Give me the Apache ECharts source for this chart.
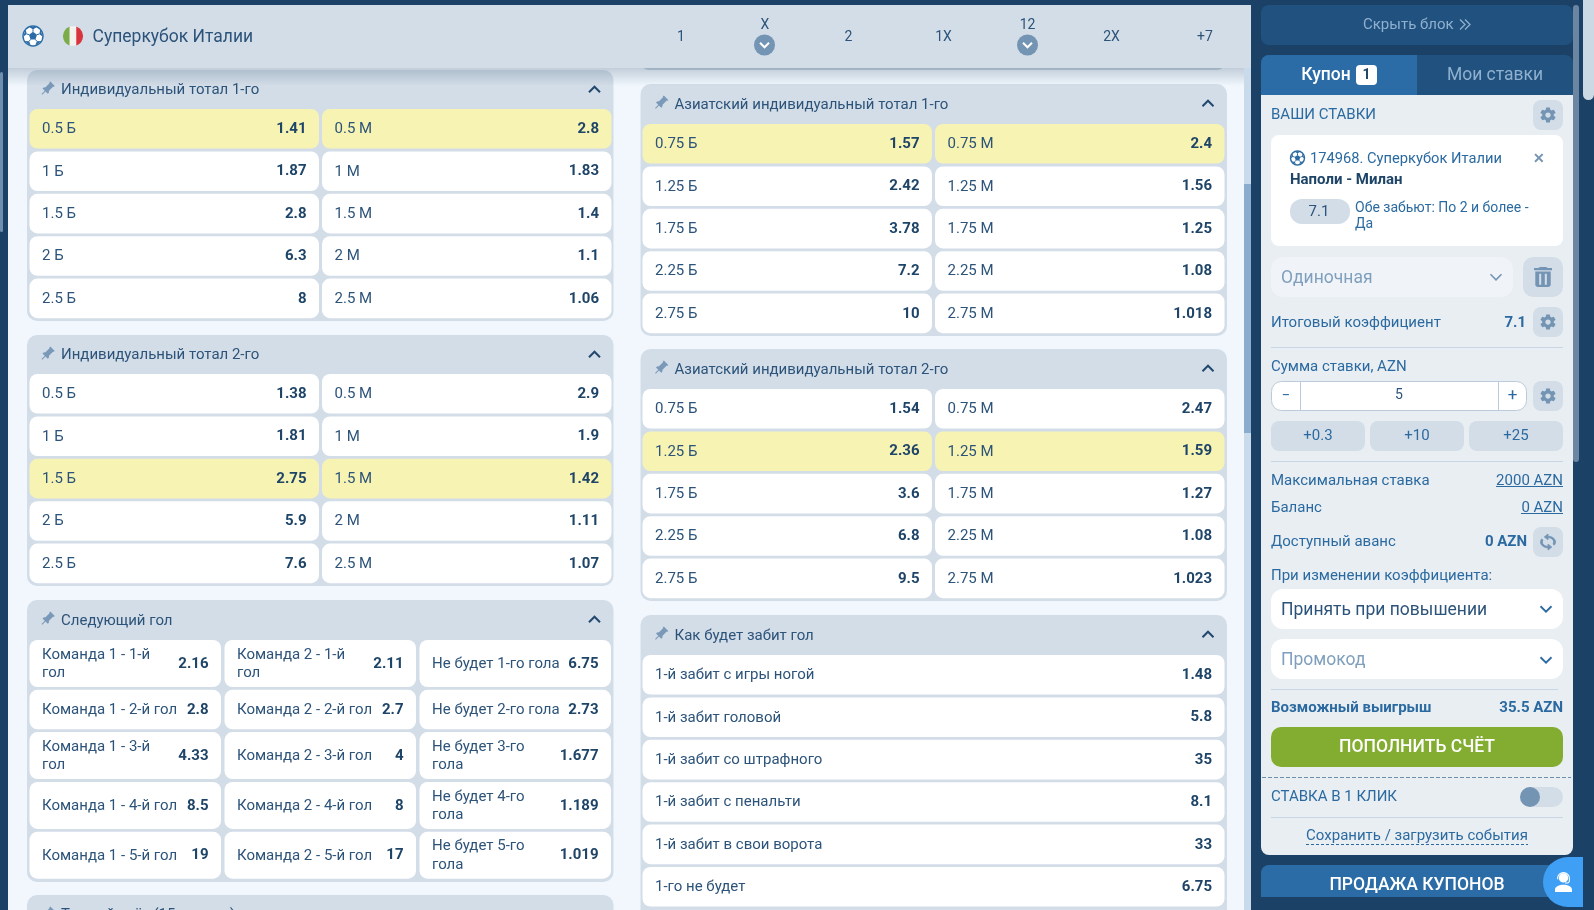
<!DOCTYPE html>
<html>
<head>
<meta charset="utf-8">
<style>html,body{margin:0;padding:0;background:#1c4167}#main{width:1594px;height:910px}</style>
<script src="https://cdn.jsdelivr.net/npm/echarts@6/dist/echarts.min.js"></script>
</head>
<body>
<div id="main"></div>
<script>
// market tables
const totalLines = ['0.5', '1', '1.5', '2', '2.5']
const asianLines = ['0.75', '1.25', '1.75', '2.25', '2.75']

const ind1Over = [1.41, 1.87, 2.8, 6.3, 8]
const ind1Under = [2.8, 1.83, 1.4, 1.1, 1.06]
const ind2Over = [1.38, 1.81, 2.75, 5.9, 7.6]
const ind2Under = [2.9, 1.9, 1.42, 1.11, 1.07]
const asian1Over = [1.57, 2.42, 3.78, 7.2, 10]
const asian1Under = [2.4, 1.56, 1.25, 1.08, 1.018]
const asian2Over = [1.54, 2.36, 3.6, 6.8, 9.5]
const asian2Under = [2.47, 1.59, 1.27, 1.08, 1.023]

const nextGoalTeam1 = ['Команда 1 - 1-й\nгол', 'Команда 1 - 2-й гол', 'Команда 1 - 3-й\nгол', 'Команда 1 - 4-й гол', 'Команда 1 - 5-й гол']
const nextGoalTeam2 = ['Команда 2 - 1-й\nгол', 'Команда 2 - 2-й гол', 'Команда 2 - 3-й гол', 'Команда 2 - 4-й гол', 'Команда 2 - 5-й гол']
const nextGoalNone = ['Не будет 1-го гола', 'Не будет 2-го гола', 'Не будет 3-го\nгола', 'Не будет 4-го\nгола', 'Не будет 5-го\nгола']
const nextGoalOdds1 = [2.16, 2.8, 4.33, 8.5, 19]
const nextGoalOdds2 = [2.11, 2.7, 4, 8, 17]
const nextGoalOdds3 = [6.75, 2.73, 1.677, 1.189, 1.019]

const howScored = ['1-й забит с игры ногой', '1-й забит головой', '1-й забит со штрафного', '1-й забит с пенальти', '1-й забит в свои ворота', '1-го не будет']
const howScoredOdds = [1.48, 5.8, 35, 8.1, 33, 6.75]

const headerMarkets = ['1', 'X', '2', '1X', '12', '2X', '+7']

const FONT = 'Roboto'
const NAVY = '#1c4167'
const PANEL = '#d3dde8'
const TXT = '#2c5379'
const ODD = '#1e4468'
const BLUE = '#2b6aa0'
const MUTED = '#7494b4'
const YELLOW = '#f7f3b3'

const GEAR = 'M19.43 12.98c.04-.32.07-.64.07-.98s-.03-.66-.07-.98l2.11-1.65c.19-.15.24-.42.12-.64l-2-3.46c-.12-.22-.39-.3-.61-.22l-2.49 1c-.52-.4-1.08-.73-1.69-.98l-.38-2.65C14.46 2.18 14.25 2 14 2h-4c-.25 0-.46.18-.49.42l-.38 2.65c-.61.25-1.17.59-1.69.98l-2.49-1c-.23-.09-.49 0-.61.22l-2 3.46c-.13.22-.07.49.12.64l2.11 1.65c-.04.32-.07.65-.07.98s.03.66.07.98l-2.11 1.65c-.19.15-.24.42-.12.64l2 3.46c.12.22.39.3.61.22l2.49-1c.52.4 1.08.73 1.69.98l.38 2.65c.03.24.24.42.49.42h4c.25 0 .46-.18.49-.42l.38-2.65c.61-.25 1.17-.59 1.69-.98l2.49 1c.23.09.49 0 .61-.22l2-3.46c.12-.22.07-.49-.12-.64l-2.11-1.65zM12 15.5c-1.93 0-3.5-1.57-3.5-3.5s1.57-3.5 3.5-3.5 3.5 1.57 3.5 3.5-1.57 3.5-3.5 3.5z'
const PIN = 'M16 12V4h1V2H7v2h1v8l-2 2v2h5.2v6h1.6v-6H18v-2l-2-2z'
const TRASH = 'M6 19c0 1.1.9 2 2 2h8c1.1 0 2-.9 2-2V7H6v12zM9 9h1.6v10H9zM13.4 9H15v10h-1.6zM19 4h-3.5l-1-1h-5l-1 1H5v2h14V4z'
const SYNC = 'M12 4V1L8 5l4 4V6c3.31 0 6 2.69 6 6 0 1.01-.25 1.97-.7 2.8l1.46 1.46C19.54 15.03 20 13.57 20 12c0-4.42-3.58-8-8-8zm0 14c-3.31 0-6-2.69-6-6 0-1.01.25-1.97.7-2.8L5.24 7.74C4.46 8.97 4 10.43 4 12c0 4.42 3.58 8 8 8v3l4-4-4-4v3z'
const AGENT = 'M12 12.5a4.2 4.2 0 1 0 0-8.4 4.2 4.2 0 0 0 0 8.4zM6.3 9.5V8.7a5.7 5.7 0 0 1 11.4 0v2.1c0 1.5-1.2 2.6-2.7 2.6h-1.6v-.9H15c1 0 1.8-.7 1.8-1.7V8.7a4.8 4.8 0 0 0-9.6 0v.8zM12 14.5c-3.6 0-7.6 1.7-7.6 4.2V21h15.2v-2.3c0-2.5-4-4.2-7.6-4.2z'

function rect(x, y, w, h, fill, r) {
  return { type: 'rect', shape: { x: x, y: y, width: w, height: h, r: r || 0 }, style: { fill: fill } }
}
// canvas middle baseline sits a pixel high for Roboto, hence the +1
function text(x, y, s, size, fill, align, weight) {
  return {
    type: 'text',
    style: {
      x: x, y: y + 1, text: s, fill: fill || TXT,
      font: (weight || 400) + ' ' + size + 'px ' + FONT,
      lineHeight: 18.5,
      textAlign: align || 'left', textVerticalAlign: 'middle',
    },
  }
}
function hline(x1, x2, y, color, dash) {
  return {
    type: 'line',
    shape: { x1: x1, y1: y, x2: x2, y2: y },
    style: { stroke: color, lineWidth: 1, lineDash: dash || null },
  }
}
function icon(path, x, y, w, h, fill, rotation, stroke) {
  return {
    type: 'path',
    shape: { pathData: path, x: x, y: y, width: w, height: h, layout: 'cover' },
    rotation: rotation || 0,
    originX: x + w / 2,
    originY: y + h / 2,
    style: { fill: fill, stroke: stroke ? fill : null, lineWidth: stroke || 0 },
  }
}
function chevron(cx, cy, size, color, up, width) {
  const d = up ? -size / 2 : size / 2
  return {
    type: 'polyline',
    shape: { points: [[cx - size, cy - d], [cx, cy + d], [cx + size, cy - d]] },
    style: { stroke: color, fill: 'none', lineWidth: width || 1.8 },
  }
}
function ball(cx, cy, r, color) {
  const out = [{ type: 'circle', shape: { cx: cx, cy: cy, r: r }, style: { fill: '#fff', stroke: color, lineWidth: 1.4 } }]
  const pts = []
  for (let i = 0; i < 5; i++) {
    const a = -Math.PI / 2 + i * 2 * Math.PI / 5
    pts.push([cx + r * 0.42 * Math.cos(a), cy + r * 0.42 * Math.sin(a)])
    const a1 = a - 0.42, a2 = a + 0.42, mid = [cx + r * 0.66 * Math.cos(a), cy + r * 0.66 * Math.sin(a)]
    out.push({
      type: 'polygon',
      shape: { points: [[cx + r * Math.cos(a1), cy + r * Math.sin(a1)], [cx + r * Math.cos(a2), cy + r * Math.sin(a2)], mid] },
      style: { fill: color },
    })
    out.push({
      type: 'line',
      shape: { x1: pts[i][0], y1: pts[i][1], x2: mid[0], y2: mid[1] },
      style: { stroke: color, lineWidth: 1 },
    })
  }
  out.push({ type: 'polygon', shape: { points: pts }, style: { fill: color } })
  return out
}
function gearBtn(x, y) {
  return [rect(x, y, 30, 30, PANEL, 8), icon(GEAR, x + 7.5, y + 7.5, 15, 15, MUTED)]
}

// one market block: grey panel with a title and its table of odds
function panelSeries(title, x, top, w, height, titleY) {
  const ty = titleY === undefined ? 19.5 : titleY
  return {
    type: 'custom', coordinateSystem: 'none', silent: true, z: 1,
    data: [0],
    renderItem: () => ({
      type: 'group',
      children: [
        rect(x, top, w, height, PANEL, 10),
        icon(PIN, x + 16.5, top + 11.5, 7.5, 15, '#7a99b8', -Math.PI / 4),
        text(x + 34, top + ty, title, 15, TXT),
        chevron(x + w - 19, top + 19.5, 5.5, '#23486d', true, 2),
      ],
    }),
  }
}
// heights: one row height per row, rows are GAP apart
const GAP = 2.8
function oddsSeries(labels, odds, x, top, w, heights, yellow) {
  return {
    type: 'custom', coordinateSystem: 'none', silent: true, z: 2,
    data: odds,
    renderItem: (params) => {
      const i = params.dataIndex
      let y = top
      for (let k = 0; k < i; k++) y += heights[k] + GAP
      const h = heights[i]
      return {
        type: 'group',
        children: [
          rect(x, y, w, h, yellow && yellow.indexOf(i) >= 0 ? YELLOW : '#fff', 8),
          text(x + 12.5, y + h / 2 - 0.3, labels[i], 15, TXT),
          text(x + w - 12.5, y + h / 2 - 0.5, String(odds[i]), 15, ODD, 'right', 700),
        ],
      }
    },
  }
}

const over = (arr) => arr.map((v) => v + ' Б')
const under = (arr) => arr.map((v) => v + ' М')

const COL_W = 289.5
const ROWS_5 = [39.6, 39.6, 39.6, 39.6, 39.6]
const ROWS_6 = [39.6, 39.6, 39.6, 39.6, 39.6, 39.6]
const ROWS_GOAL = [47, 39.5, 47, 47, 47]

const backdrop = [
  rect(0, 0, 1594, 910, NAVY),
  rect(8, 5, 1243, 905, '#f1f7fd'),
  rect(1244, 5, 7, 905, '#c9dbeb'),
  rect(1244, 184, 7, 249, '#8aaccd'),
  rect(0, 72, 3, 160, '#6f8fae', 2),
  rect(641, 40, 584, 30, '#c3cfdb', 8),
]

const headerBar = [
  {
    type: 'rect',
    shape: { x: 8, y: 68, width: 1236, height: 18 },
    style: {
      fill: new echarts.graphic.LinearGradient(0, 0, 0, 1, [
        { offset: 0, color: 'rgba(70,100,130,0.28)' },
        { offset: 1, color: 'rgba(70,100,130,0)' },
      ]),
    },
  },
  rect(8, 5, 1243, 63, PANEL),
  ...ball(33, 36, 10, '#2b6ca7'),
  { type: 'path', shape: { pathData: 'M69.7 26.6A10 10 0 0 0 69.7 45.4Z', x: 63, y: 26.6, width: 6.7, height: 18.8, layout: 'cover' }, style: { fill: '#7cab4a' } },
  rect(69.7, 26.3, 6.6, 19.4, '#f4f1ef'),
  { type: 'path', shape: { pathData: 'M76.3 26.6A10 10 0 0 1 76.3 45.4Z', x: 76.3, y: 26.6, width: 6.7, height: 18.8, layout: 'cover' }, style: { fill: '#d9343c' } },
  text(92.5, 36.5, 'Суперкубок Италии', 17.5, TXT),
  text(681, 36, headerMarkets[0], 14, TXT, 'center'),
  text(765, 24.5, headerMarkets[1], 14, TXT, 'center'),
  { type: 'circle', shape: { cx: 764.5, cy: 45, r: 10.5 }, style: { fill: MUTED } },
  chevron(764.5, 45, 4.5, '#fff', false, 2),
  text(848.5, 36, headerMarkets[2], 14, TXT, 'center'),
  text(943.5, 36, headerMarkets[3], 14, TXT, 'center'),
  text(1027.5, 24.5, headerMarkets[4], 14, TXT, 'center'),
  { type: 'circle', shape: { cx: 1027.5, cy: 45, r: 10.5 }, style: { fill: MUTED } },
  chevron(1027.5, 45, 4.5, '#fff', false, 2),
  text(1111.5, 36, headerMarkets[5], 14, TXT, 'center'),
  text(1205, 36, headerMarkets[6], 14, TXT, 'center'),
]

const sidebar = [
  rect(1583, 0, 11, 100, '#cbd9e4', [0, 0, 6, 6]),
  rect(1573, 5, 6, 457, '#6a86a3', 3),
  rect(1261, 5, 312, 40, '#21527f', 8),
  text(1363, 24, 'Скрыть блок', 15, '#8fb0cf'),
  { type: 'polyline', shape: { points: [[1460, 19.5], [1465, 24.5], [1460, 29.5]] }, style: { stroke: '#8fb0cf', fill: 'none', lineWidth: 1.3 } },
  { type: 'polyline', shape: { points: [[1465, 19.5], [1470, 24.5], [1465, 29.5]] }, style: { stroke: '#8fb0cf', fill: 'none', lineWidth: 1.3 } },
  rect(1261, 55, 312, 40, '#21527f', [8, 8, 0, 0]),
  rect(1261, 55, 156, 40, '#2b6ca7', [8, 0, 0, 0]),
  text(1326, 75, 'Купон', 17.5, '#fff', 'center', 500),
  rect(1356, 65, 21, 20, '#fff', 4),
  text(1366.5, 74, '1', 14, ODD, 'center', 700),
  text(1495, 75, 'Мои ставки', 17.5, '#8fb0cf', 'center'),
  rect(1261, 95, 312, 760, '#e9eef3', [0, 0, 8, 8]),

  text(1271, 114, 'ВАШИ СТАВКИ', 15, BLUE),
  ...gearBtn(1533, 100),
  rect(1271, 135, 292, 111, '#fff', 8),
  ...ball(1297.5, 158, 7, BLUE),
  text(1310, 158, '174968. Суперкубок Италии', 14.7, BLUE),
  text(1539, 158, '✕', 14, '#7494b4', 'center', 700),
  text(1290, 179, 'Наполи - Милан', 15, ODD, 'left', 700),
  rect(1290, 199, 60, 25, PANEL, 12),
  text(1319, 211, '7.1', 15, TXT, 'center'),
  text(1355, 207, 'Обе забьют: По 2 и более -', 14, BLUE),
  text(1355, 223, 'Да', 14, BLUE),

  rect(1271, 257, 242, 40, '#f0f4f8', 12),
  text(1281, 277.5, 'Одиночная', 17.5, '#7f9fbd'),
  chevron(1496, 277, 5.5, '#7494b4', false, 1.6),
  rect(1523, 257, 40, 40, PANEL, 10),
  icon(TRASH, 1534, 267, 18, 20, MUTED),

  text(1271, 322, 'Итоговый коэффициент', 15, BLUE),
  text(1526, 322, '7.1', 15, BLUE, 'right', 700),
  ...gearBtn(1533, 307),
  hline(1271, 1563, 347.5, '#c8d6e3'),

  text(1271, 366, 'Сумма ставки, AZN', 15, BLUE),
  { type: 'rect', shape: { x: 1271.5, y: 381.5, width: 255, height: 29, r: 10 }, style: { fill: '#fff', stroke: '#bccbd9', lineWidth: 1 } },
  { type: 'line', shape: { x1: 1300.5, y1: 382, x2: 1300.5, y2: 410 }, style: { stroke: '#bccbd9' } },
  { type: 'line', shape: { x1: 1498.5, y1: 382, x2: 1498.5, y2: 410 }, style: { stroke: '#bccbd9' } },
  text(1286, 395, '−', 15, BLUE, 'center'),
  text(1399, 394, '5', 14, TXT, 'center'),
  text(1512.5, 395, '+', 17, BLUE, 'center'),
  ...gearBtn(1533, 381),

  rect(1271, 421, 94, 30, PANEL, 8),
  text(1318, 435, '+0.3', 15, BLUE, 'center'),
  rect(1370, 421, 94, 30, PANEL, 8),
  text(1417, 435, '+10', 15, BLUE, 'center'),
  rect(1469, 421, 94, 30, PANEL, 8),
  text(1516, 435, '+25', 15, BLUE, 'center'),
  hline(1271, 1563, 461.5, '#c8d6e3'),

  text(1271, 480, 'Максимальная ставка', 15, BLUE),
  text(1563, 480, '2000 AZN', 15, BLUE, 'right'),
  hline(1496, 1563, 486.5, BLUE),
  text(1271, 507, 'Баланс', 15, BLUE),
  text(1563, 507, '0 AZN', 15, BLUE, 'right'),
  hline(1521, 1563, 513.5, BLUE),
  text(1271, 541, 'Доступный аванс', 15, BLUE),
  text(1527, 541, '0 AZN', 15, BLUE, 'right', 700),
  rect(1533, 527, 30, 30, PANEL, 8),
  icon(SYNC, 1540.5, 534, 15, 16, MUTED, 0, 0.8),
  text(1271, 575, 'При изменении коэффициента:', 15, BLUE),

  rect(1271, 589, 292, 40, '#fff', 12),
  text(1281, 609.5, 'Принять при повышении', 17.5, TXT),
  chevron(1546, 609, 5.5, '#2b6aa0', false, 1.8),
  rect(1271, 639, 292, 40, '#fff', 12),
  text(1281, 660, 'Промокод', 17.5, '#7f9fbd'),
  chevron(1546, 660, 5.5, '#2b6aa0', false, 1.8),
  hline(1271, 1558, 689.5, '#c8d6e3'),
  text(1271, 707, 'Возможный выигрыш', 15, BLUE, 'left', 700),
  text(1563, 707, '35.5 AZN', 15, BLUE, 'right', 700),

  rect(1271, 727, 292, 40, '#83ad30', 10),
  text(1417, 746.5, 'ПОПОЛНИТЬ СЧЁТ', 17.5, '#fff', 'center', 500),
  hline(1262, 1571, 777.5, '#6f8fae', [4, 2]),
  text(1271, 796, 'СТАВКА В 1 КЛИК', 15, BLUE),
  rect(1520, 787, 43, 20, PANEL, 10),
  { type: 'circle', shape: { cx: 1530, cy: 797, r: 10 }, style: { fill: MUTED } },
  hline(1271, 1563, 817.5, '#c8d6e3'),
  text(1417, 835, 'Сохранить / загрузить события', 15, BLUE, 'center'),
  hline(1306, 1528, 844.5, BLUE, [3, 2]),

  rect(1261, 865, 312, 32, '#2b6ca7', [8, 8, 0, 0]),
  text(1417, 884.5, 'ПРОДАЖА КУПОНОВ', 17.5, '#fff', 'center', 500),
  rect(1543, 857, 40, 50, '#3f9ff5', [25, 0, 0, 25]),
  icon(AGENT, 1555, 872, 17, 20, '#fff'),
]

function chrome(children, z) {
  return {
    type: 'custom', coordinateSystem: 'none', silent: true, z: z,
    data: [0],
    renderItem: () => ({ type: 'group', children: children }),
  }
}

const option = {
  animation: false,
  backgroundColor: NAVY,
  series: [
    chrome(backdrop, 0),

    panelSeries('Индивидуальный тотал 1-го', 27, 70, 586.5, 251, 19),
    oddsSeries(over(totalLines), ind1Over, 29.5, 109, COL_W, ROWS_5, [0]),
    oddsSeries(under(totalLines), ind1Under, 322, 109, COL_W, ROWS_5, [0]),

    panelSeries('Индивидуальный тотал 2-го', 27, 335, 586.5, 251, 19),
    oddsSeries(over(totalLines), ind2Over, 29.5, 374, COL_W, ROWS_5, [2]),
    oddsSeries(under(totalLines), ind2Under, 322, 374, COL_W, ROWS_5, [2]),

    panelSeries('Следующий гол', 27, 600, 586.5, 282, 20),
    oddsSeries(nextGoalTeam1, nextGoalOdds1, 29.5, 640, 191.5, ROWS_GOAL),
    oddsSeries(nextGoalTeam2, nextGoalOdds2, 224.5, 640, 191.5, ROWS_GOAL),
    oddsSeries(nextGoalNone, nextGoalOdds3, 419.5, 640, 191.5, ROWS_GOAL),

    panelSeries('Точный счёт (15 минута)', 27, 895, 586.5, 60),

    panelSeries('Азиатский индивидуальный тотал 1-го', 640.5, 84, 586.5, 252, 20),
    oddsSeries(over(asianLines), asian1Over, 642.5, 124, COL_W, ROWS_5, [0]),
    oddsSeries(under(asianLines), asian1Under, 935, 124, COL_W, ROWS_5, [0]),

    panelSeries('Азиатский индивидуальный тотал 2-го', 640.5, 349, 586.5, 252, 20),
    oddsSeries(over(asianLines), asian2Over, 642.5, 389, COL_W, ROWS_5, [1]),
    oddsSeries(under(asianLines), asian2Under, 935, 389, COL_W, ROWS_5, [1]),

    panelSeries('Как будет забит гол', 640.5, 615, 586.5, 310, 20),
    oddsSeries(howScored, howScoredOdds, 642.5, 655, 582, ROWS_6),

    chrome(headerBar, 5),
    chrome(sidebar, 6),
  ],
}

const myChart = echarts.init(document.getElementById('main'), null, { renderer: 'canvas' })
myChart.setOption(option)
</script>
</body>
</html>
